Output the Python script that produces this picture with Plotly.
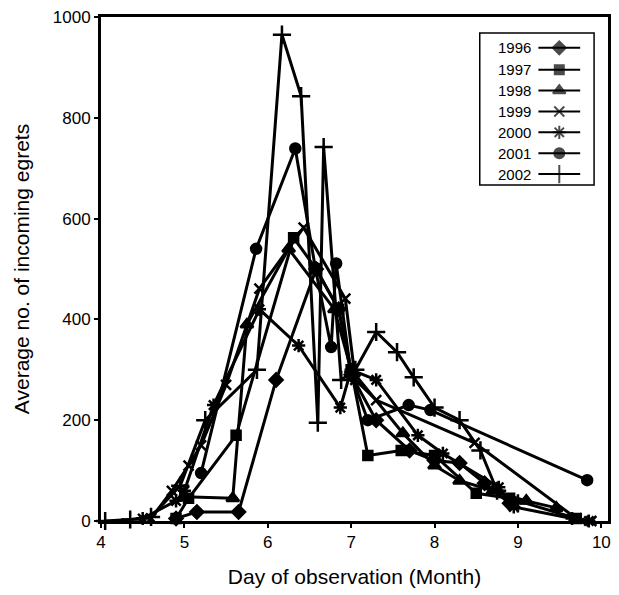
import plotly.graph_objects as go

# ---- data (month as decimal, average number of incoming egrets) ----
years = ["1996", "1997", "1998", "1999", "2000", "2001", "2002"]

x1996 = [4.9, 5.15, 5.65, 6.1, 6.58, 6.85, 7.0, 7.3, 7.7, 8.0, 8.3, 8.6, 8.9]
y1996 = [5, 18, 18, 280, 500, 420, 290, 200, 140, 120, 115, 75, 35]

x1997 = [4.9, 5.05, 5.62, 6.31, 6.58, 6.85, 7.0, 7.2, 7.6, 8.0, 8.5, 8.9, 9.7]
y1997 = [5, 45, 170, 562, 500, 420, 300, 130, 140, 130, 55, 45, 5]

x1998 = [5.0, 5.58, 5.75, 6.25, 6.8, 7.0, 7.62, 8.0, 8.3, 8.7, 9.1, 9.46]
y1998 = [48, 45, 390, 540, 420, 300, 174, 110, 80, 60, 40, 26]

x1999 = [4.6, 4.85, 5.05, 5.2, 5.5, 5.9, 6.43, 6.93, 7.05, 7.3, 8.48, 9.7, 9.88]
y1999 = [5, 60, 110, 150, 270, 461, 582, 441, 280, 240, 155, 5, 0]

x2000 = [4.5, 4.9, 5.0, 5.35, 5.9, 6.37, 6.87, 7.0, 7.3, 7.8, 8.1, 8.77, 8.95, 9.65, 9.85]
y2000 = [5, 40, 60, 230, 420, 348, 225, 300, 280, 170, 134, 67, 28, 5, 0]

x2001 = [5.2, 5.86, 6.33, 6.57, 6.76, 6.82, 7.0, 7.2, 7.69, 7.95, 9.83]
y2001 = [95, 540, 739, 502, 345, 511, 290, 200, 230, 220, 81]

x2002 = [4.05, 4.35, 4.6, 4.95, 5.25, 5.87, 6.17, 6.4, 6.6, 6.67, 6.88, 7.05, 7.3,
         7.55, 7.75, 8.0, 8.3, 8.55, 8.75, 9.0]
y2002 = [0, 3, 8, 70, 200, 300, 965, 843, 195, 742, 280, 300, 375,
         335, 285, 225, 200, 140, 60, 35]

xs = [x1996, x1997, x1998, x1999, x2000, x2001, x2002]
ys = [y1996, y1997, y1998, y1999, y2000, y2001, y2002]

x_ticks = [4, 5, 6, 7, 8, 9, 10]
y_ticks = [0, 200, 400, 600, 800, 1000]

symbols = ["diamond", "square", "triangle-up", "x-thin-open", "asterisk-open",
           "circle", "cross-thin-open"]
sizes = [10, 9, 11, 10, 11, 10, 13]

FONT = "Liberation Sans, Arial, sans-serif"

fig = go.Figure()
for yr, xv, yv, sym, sz in zip(years, xs, ys, symbols, sizes):
    fig.add_trace(go.Scatter(
        x=xv, y=yv, mode="lines+markers", name=yr, showlegend=False,
        line=dict(color="black", width=3),
        marker=dict(symbol=sym, size=sz, color="black",
                    line=dict(color="black", width=2.5)),
        cliponaxis=False,
    ))

# ---- custom legend (text left, sample right) on a helper axis in pixel-like units ----
row_y = [45, 67, 88, 109, 130, 151, 172]
for yr, ry, sym, sz in zip(years, row_y, symbols, sizes):
    fig.add_trace(go.Scatter(
        x=[541, 562, 583], y=[ry, ry, ry], mode="lines+markers",
        xaxis="x2", yaxis="y2", showlegend=False, hoverinfo="skip",
        line=dict(color="black", width=2),
        marker=dict(symbol=sym, size=[0, sz, 0], color="black",
                    line=dict(color="black", width=2)),
    ))
    fig.add_annotation(x=536, y=ry, xref="x2", yref="y2", text=yr,
                       showarrow=False, xanchor="right", yanchor="middle",
                       font=dict(size=15, color="black", family=FONT))

fig.add_shape(type="rect", xref="x2", yref="y2", x0=482, x1=597, y0=30, y1=183,
              line=dict(color="black", width=1.5), fillcolor="rgba(0,0,0,0)")

L, R, T, B = 101, 8, 14, 74
W, H = 619, 595
pw, ph = W - L - R, H - T - B
fig.update_layout(
    width=W, height=H,
    margin=dict(l=L, r=R, t=T, b=B),
    plot_bgcolor="white", paper_bgcolor="white",
    font=dict(family=FONT, color="black", size=16),
    xaxis=dict(
        range=[4, 10.08], tickvals=x_ticks, showgrid=False, zeroline=False,
        showline=True, linecolor="black", linewidth=3, mirror=True,
        ticks="outside", ticklen=4, tickwidth=1.5, tickcolor="black",
        tickfont=dict(size=17),
        title=dict(text="Day of observation (Month)", font=dict(size=21), standoff=18),
    ),
    yaxis=dict(
        range=[0, 1000], tickvals=y_ticks, showgrid=False, zeroline=False,
        showline=True, linecolor="black", linewidth=3, mirror=True,
        ticks="outside", ticklen=4, tickwidth=1.5, tickcolor="black",
        tickfont=dict(size=17),
        title=dict(text="Average no. of incoming egrets", font=dict(size=21), standoff=18),
    ),
    xaxis2=dict(domain=[(482 - L) / pw - 0.01, (597 - L) / pw + 0.01],
                range=[482 - 0.01 * pw, 597 + 0.01 * pw],
                visible=False, anchor="y2"),
    yaxis2=dict(domain=[1 - (183 - T) / ph - 0.01, 1 - (30 - T) / ph + 0.01],
                range=[183 + 0.01 * ph, 30 - 0.01 * ph],
                visible=False, anchor="x2"),
)

fig.write_html("out.html")
